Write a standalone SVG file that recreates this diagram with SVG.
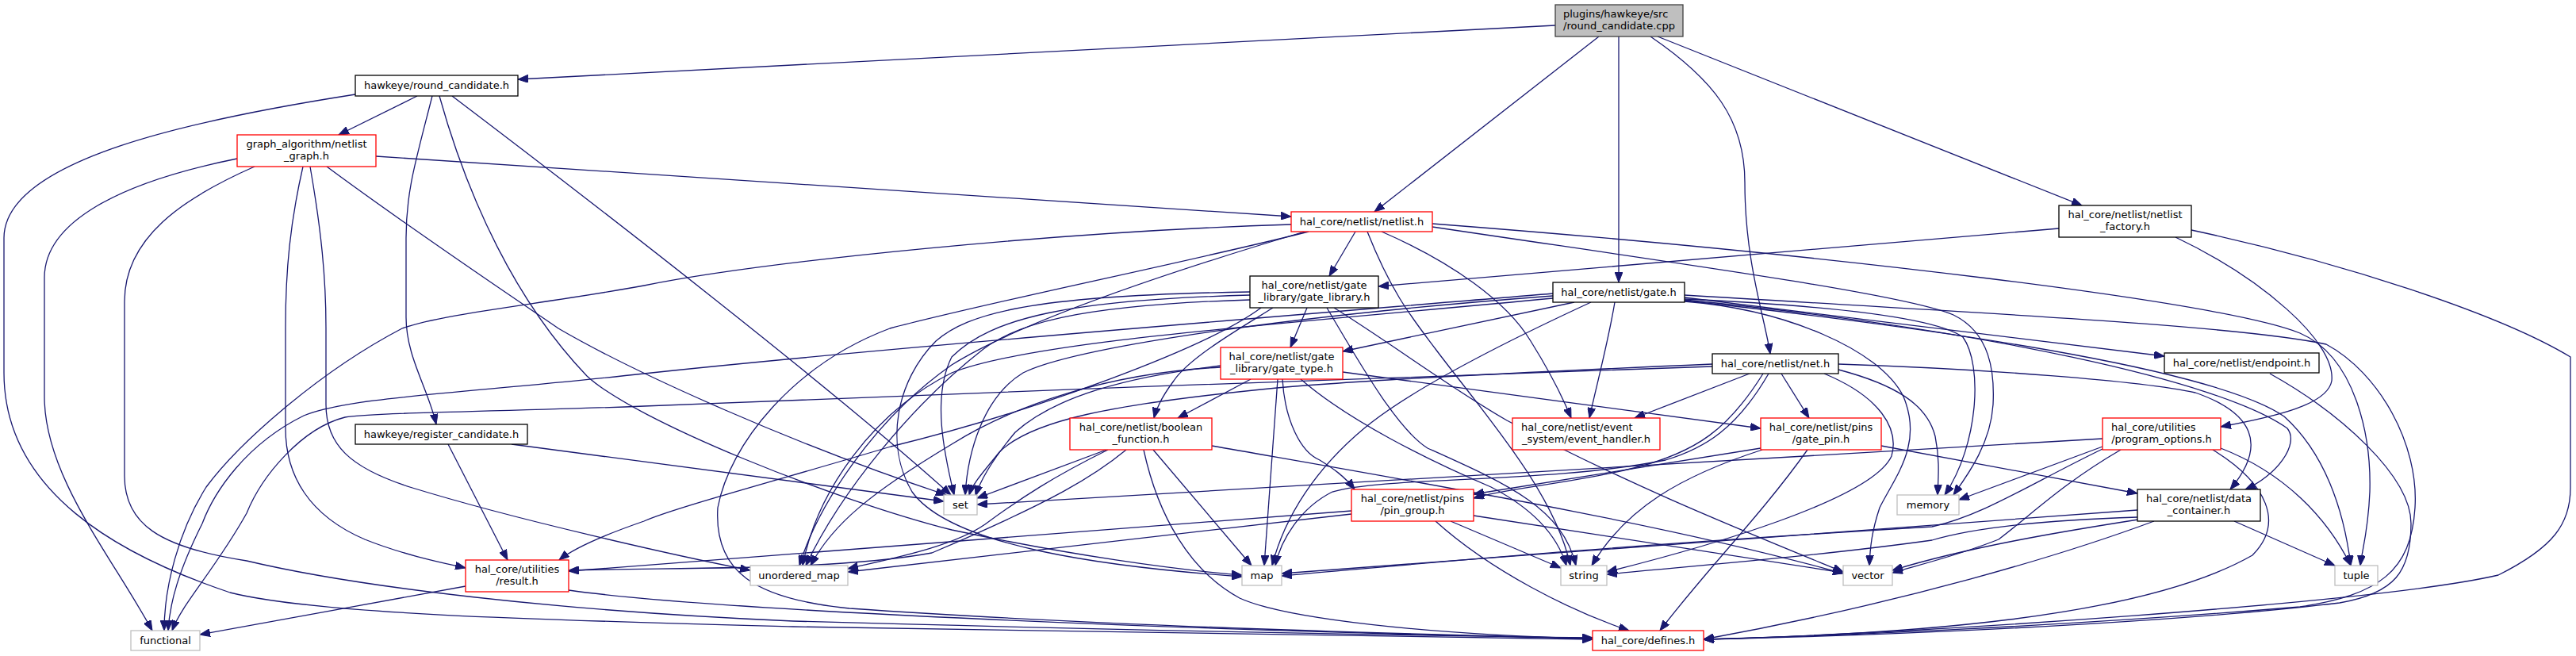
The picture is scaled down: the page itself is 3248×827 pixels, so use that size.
<svg xmlns="http://www.w3.org/2000/svg" width="3248" height="827" viewBox="0 0 3248 827">
<style>
.n rect{fill:#fff;stroke:#000;stroke-width:1.3}
.r rect{stroke:#ff0000}
.s rect{stroke:#bfbfbf}
.root rect{fill:#bfbfbf;stroke:#404040}
text{font-family:"DejaVu Sans","Liberation Sans",sans-serif;font-size:13px;fill:#000;text-anchor:middle}
text.l{text-anchor:start}
#edges path{fill:none;stroke:#191970;stroke-width:1.3;marker-end:url(#a)}
</style>
<defs>
<marker id="a" markerUnits="userSpaceOnUse" markerWidth="14" markerHeight="10" refX="13" refY="5" orient="auto">
<path d="M0,0 L13,5 L0,10 z" fill="#191970" stroke="#191970" stroke-width="1"/>
</marker>
</defs>
<rect width="3248" height="827" fill="#fff"/>
<g id="edges">
<path d="M1961,32 L653,100"/>
<path d="M2016,46 L1733,267"/>
<path d="M2041,46 L2041,356"/>
<path d="M2081,46 C2160,100 2200,150 2200,230 C2200,330 2225,400 2232,446"/>
<path d="M2090,46 L2625,259"/>
<path d="M526,121 L427,170"/>
<path d="M448,119 C250,150 5,200 5,300 L5,470 C5,620 150,700 290,747 C400,775 700,782 1000,790 C1500,800 1800,805 2008,806"/>
<path d="M545,121 C525,200 512,240 512,300 L512,400 C512,450 540,490 550,535"/>
<path d="M554,121 C590,250 650,380 740,474 C800,530 1050,630 1200,668 C1350,700 1480,718 1566,725"/>
<path d="M570,121 C760,265 1050,490 1199,624"/>
<path d="M474,197 L1628,273"/>
<path d="M299,200 C150,230 56,280 56,350 L56,500 C56,600 140,700 192,795"/>
<path d="M321,210 C230,250 157,300 157,380 L157,600 C157,660 200,690 311,707 C450,740 700,770 1000,783 C1500,797 1850,802 2008,804"/>
<path d="M382,210 C366,280 360,340 360,413 L360,540 C360,600 390,650 460,680 C510,700 560,710 587,716"/>
<path d="M391,210 C405,290 411,350 411,413 L411,510 C411,560 440,590 520,615 C650,655 850,700 946,719"/>
<path d="M412,210 C520,290 640,370 704,414 C800,470 1000,560 1193,624"/>
<path d="M565,560 L640,706"/>
<path d="M645,560 L1190,632"/>
<path d="M587,739 L252,800"/>
<path d="M717,744 C900,770 1500,795 2008,805"/>
<path d="M1628,283 C1330,292 960,330 812,360 C680,384 560,395 507,414 C400,470 300,560 260,614 C225,670 207,740 207,795"/>
<path d="M1709,292 L1676,348"/>
<path d="M1724,292 C1755,370 1780,400 1810,440 C1870,520 1960,620 1980,713"/>
<path d="M1742,292 C1830,330 1900,380 1930,430 C1955,470 1970,500 1981,527"/>
<path d="M1806,282 C2300,320 2800,380 2900,420 C2970,450 2990,550 2988,620 C2986,670 2978,695 2976,713"/>
<path d="M1806,286 C2100,330 2400,370 2463,397 C2510,420 2515,470 2513,510 C2510,560 2480,600 2463,624"/>
<path d="M1650,292 C1500,330 1250,380 1122,414 C1000,460 920,560 905,640 C900,720 950,755 1071,767 C1400,790 1800,800 2008,805"/>
<path d="M1645,292 C1450,350 1280,410 1200,460 C1100,530 1030,640 1008,713"/>
<path d="M1648,388 L1627,438"/>
<path d="M1605,388 C1570,410 1500,450 1480,480 C1465,500 1458,515 1455,527"/>
<path d="M1673,388 C1710,450 1760,540 1800,565 C1900,610 1970,640 1987,713"/>
<path d="M1682,388 C1750,430 1830,490 1900,530 C2050,610 2200,670 2324,721"/>
<path d="M1576,368 C1300,372 1220,395 1180,430 C1130,480 1115,560 1150,620 C1200,690 1400,715 1566,727"/>
<path d="M1576,372 C1350,378 1250,400 1200,450 C1175,500 1190,570 1203,624"/>
<path d="M1576,378 C1350,385 1280,410 1240,440 C1150,510 1060,620 1016,713"/>
<path d="M1590,388 C1520,440 1300,520 1123,563 C1000,600 850,640 812,657 C760,675 725,690 705,706"/>
<path d="M1985,381 L1693,443"/>
<path d="M2006,381 C1900,430 1780,490 1720,540 C1660,590 1620,650 1604,713"/>
<path d="M2036,381 C2028,430 2012,490 2004,527"/>
<path d="M1958,370 C1600,400 1100,440 812,471 C600,495 440,500 383,524 C310,560 270,620 255,660 C225,720 214,760 212,795"/>
<path d="M1958,373 C1600,400 1350,440 1290,470 C1240,500 1220,570 1217,624"/>
<path d="M1958,376 C1600,410 1300,430 1200,470 C1100,520 1030,620 1012,713"/>
<path d="M2124,375 L2729,449"/>
<path d="M2124,377 C2300,385 2440,400 2475,425 C2500,460 2495,560 2452,624"/>
<path d="M2124,379 C2500,420 2800,470 2880,525 C2930,570 2955,640 2964,713"/>
<path d="M2124,372 C2500,395 2820,410 2933,434 C3000,470 3050,560 3045,640 C3040,720 3000,750 2900,765 C2600,790 2300,802 2148,806"/>
<path d="M2124,380 C2250,390 2370,440 2400,500 C2425,560 2390,600 2370,640 C2360,670 2358,690 2357,713"/>
<path d="M2124,378 C2500,415 2800,480 2884,540 C2900,560 2870,600 2831,617"/>
<path d="M2206,471 L2061,527"/>
<path d="M2246,471 L2281,527"/>
<path d="M2223,471 C2180,540 2140,570 2060,590 C1980,610 1900,615 1858,628"/>
<path d="M2230,471 C2190,540 2150,565 2100,580 C1950,610 1750,600 1680,620 C1640,640 1615,680 1608,713"/>
<path d="M2300,471 C2370,500 2395,540 2385,575 C2360,630 2150,690 2026,721"/>
<path d="M2318,466 C2390,485 2430,510 2440,550 C2446,580 2444,600 2443,624"/>
<path d="M2318,459 C2500,465 2700,480 2768,495 C2840,520 2860,560 2812,617"/>
<path d="M2159,462 C1800,475 1200,495 812,512 C600,520 470,520 435,526 C380,540 330,600 311,647 C270,720 230,760 217,795"/>
<path d="M2159,459 C1900,470 1700,480 1600,490 C1400,510 1300,530 1260,570 C1240,595 1226,610 1222,624"/>
<path d="M1577,478 L1485,527"/>
<path d="M1693,469 L2220,540"/>
<path d="M1617,478 C1620,530 1640,570 1664,580 C1680,590 1695,600 1708,617"/>
<path d="M1611,478 L1594,713"/>
<path d="M1640,478 C1700,530 1800,580 1880,614 C1940,645 1965,680 1975,713"/>
<path d="M1539,461 C1420,475 1330,500 1280,545 C1255,575 1238,600 1230,625"/>
<path d="M1539,463 C1400,470 1280,510 1200,560 C1100,620 1050,660 1022,713"/>
<path d="M1395,567 L1232,628"/>
<path d="M1397,567 C1330,600 1288,627 1242,661 C1200,690 1120,705 1069,717"/>
<path d="M1420,567 C1380,600 1330,631 1175,697 C1050,720 850,715 717,719"/>
<path d="M1454,567 L1578,713"/>
<path d="M1442,567 C1460,650 1500,720 1563,754 C1620,780 1800,800 2008,805"/>
<path d="M1528,562 C1800,610 2100,660 2324,723"/>
<path d="M2220,565 L1858,623"/>
<path d="M2222,567 C2120,600 2050,640 2007,713"/>
<path d="M2279,567 C2220,650 2150,720 2093,795"/>
<path d="M2372,562 L2695,622"/>
<path d="M1704,644 L717,720"/>
<path d="M1704,648 L1069,721"/>
<path d="M1829,657 L1968,716"/>
<path d="M1858,650 L2324,722"/>
<path d="M1810,657 C1880,720 1980,770 2054,795"/>
<path d="M2651,553 L1232,636"/>
<path d="M2651,563 L2470,630"/>
<path d="M2651,566 C2560,610 2500,650 2436,664 C2000,690 1800,710 1616,726"/>
<path d="M2674,567 C2600,610 2560,650 2520,680 C2470,700 2420,712 2386,722"/>
<path d="M2790,567 C2860,610 2880,660 2840,700 C2700,780 2400,800 2148,806"/>
<path d="M2800,565 C2880,596 2934,652 2964,713"/>
<path d="M2695,643 C2500,655 2000,695 1616,723"/>
<path d="M2695,652 C2600,655 2500,662 2436,681 C2300,700 2150,712 2026,724"/>
<path d="M2696,655 C2600,670 2480,690 2386,719"/>
<path d="M2716,657 C2600,700 2400,760 2148,806"/>
<path d="M2817,657 L2944,713"/>
<path d="M2862,471 C2950,520 3040,600 3040,660 C3040,720 3020,748 2950,760 C2700,790 2300,803 2148,806"/>
<path d="M2596,288 L1738,361"/>
<path d="M2743,299 C2850,350 2945,430 2940,480 C2935,510 2870,525 2800,538"/>
<path d="M2763,290 C2950,330 3150,395 3241,450 L3241,615 C3241,660 3220,690 3150,725 C3000,760 2400,800 2148,806"/>
</g>
<g id="n_root" class="n root"><rect x="1961" y="6" width="161" height="40"/><text class="l" x="1971" y="22">plugins/hawkeye/src</text><text x="2041.5" y="37">/round_candidate.cpp</text></g>
<g id="n_round_candidate" class="n"><rect x="448" y="95" width="205" height="26"/><text x="550.5" y="112">hawkeye/round_candidate.h</text></g>
<g id="n_netlist_graph" class="n r"><rect x="299" y="170" width="175" height="40"/><text x="386.5" y="186">graph_algorithm/netlist</text><text x="386.5" y="201">_graph.h</text></g>
<g id="n_netlist" class="n r"><rect x="1628" y="267" width="178" height="25"/><text x="1717" y="284">hal_core/netlist/netlist.h</text></g>
<g id="n_gate_library" class="n"><rect x="1576" y="348" width="162" height="40"/><text x="1657" y="364">hal_core/netlist/gate</text><text x="1657" y="379">_library/gate_library.h</text></g>
<g id="n_gate" class="n"><rect x="1958" y="356" width="166" height="25"/><text x="2041" y="373">hal_core/netlist/gate.h</text></g>
<g id="n_netlist_factory" class="n"><rect x="2596" y="259" width="167" height="40"/><text x="2679.5" y="275">hal_core/netlist/netlist</text><text x="2679.5" y="290">_factory.h</text></g>
<g id="n_register_candidate" class="n"><rect x="448" y="535" width="217" height="25"/><text x="556.5" y="552">hawkeye/register_candidate.h</text></g>
<g id="n_result" class="n r"><rect x="587" y="706" width="130" height="40"/><text x="652" y="722">hal_core/utilities</text><text x="652" y="737">/result.h</text></g>
<g id="n_functional" class="n s"><rect x="165" y="795" width="87" height="25"/><text x="208.5" y="812">functional</text></g>
<g id="n_gate_type" class="n r"><rect x="1539" y="438" width="154" height="40"/><text x="1616" y="454">hal_core/netlist/gate</text><text x="1616" y="469">_library/gate_type.h</text></g>
<g id="n_boolean_function" class="n r"><rect x="1349" y="527" width="179" height="40"/><text x="1438.5" y="543">hal_core/netlist/boolean</text><text x="1438.5" y="558">_function.h</text></g>
<g id="n_set" class="n s"><rect x="1190" y="624" width="42" height="25"/><text x="1211" y="641">set</text></g>
<g id="n_unordered_map" class="n s"><rect x="946" y="713" width="123" height="25"/><text x="1007.5" y="730">unordered_map</text></g>
<g id="n_map" class="n s"><rect x="1566" y="713" width="50" height="25"/><text x="1591" y="730">map</text></g>
<g id="n_net" class="n"><rect x="2159" y="446" width="159" height="25"/><text x="2238.5" y="463">hal_core/netlist/net.h</text></g>
<g id="n_event_handler" class="n r"><rect x="1907" y="527" width="186" height="40"/><text class="l" x="1918" y="543">hal_core/netlist/event</text><text x="2000" y="558">_system/event_handler.h</text></g>
<g id="n_gate_pin" class="n r"><rect x="2220" y="527" width="152" height="40"/><text x="2296" y="543">hal_core/netlist/pins</text><text x="2296" y="558">/gate_pin.h</text></g>
<g id="n_pin_group" class="n r"><rect x="1704" y="617" width="154" height="40"/><text x="1781" y="633">hal_core/netlist/pins</text><text x="1781" y="648">/pin_group.h</text></g>
<g id="n_string" class="n s"><rect x="1968" y="713" width="58" height="25"/><text x="1997" y="730">string</text></g>
<g id="n_vector" class="n s"><rect x="2324" y="713" width="62" height="25"/><text x="2355" y="730">vector</text></g>
<g id="n_defines" class="n r"><rect x="2008" y="795" width="140" height="25"/><text x="2078" y="812">hal_core/defines.h</text></g>
<g id="n_memory" class="n s"><rect x="2392" y="624" width="78" height="25"/><text x="2431" y="641">memory</text></g>
<g id="n_endpoint" class="n"><rect x="2729" y="445" width="195" height="25"/><text x="2826.5" y="462">hal_core/netlist/endpoint.h</text></g>
<g id="n_program_options" class="n r"><rect x="2651" y="527" width="149" height="40"/><text class="l" x="2662" y="543">hal_core/utilities</text><text x="2725.5" y="558">/program_options.h</text></g>
<g id="n_data_container" class="n"><rect x="2695" y="617" width="155" height="40"/><text x="2772.5" y="633">hal_core/netlist/data</text><text x="2772.5" y="648">_container.h</text></g>
<g id="n_tuple" class="n s"><rect x="2944" y="713" width="54" height="25"/><text x="2971" y="730">tuple</text></g>
</svg>
